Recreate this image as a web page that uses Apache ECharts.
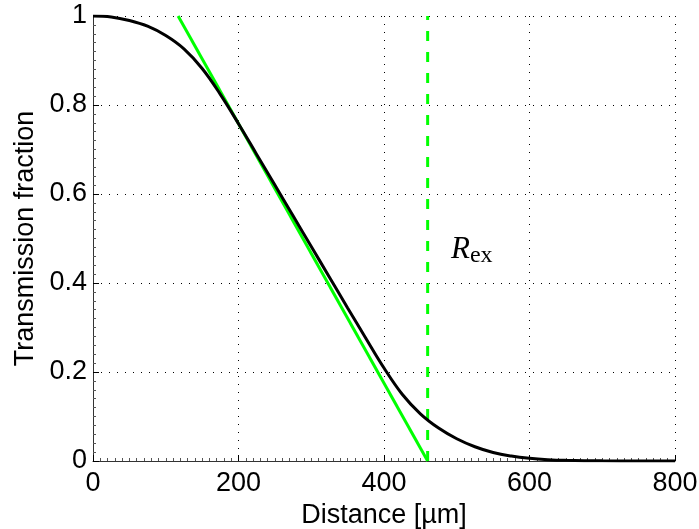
<!DOCTYPE html>
<html>
<head>
<meta charset="utf-8">
<script src="https://cdn.jsdelivr.net/npm/echarts@6/dist/echarts.min.js"></script>
<style>
  html, body { margin: 0; padding: 0; background: #fff; }
  #chart { width: 699px; height: 529px; }
</style>
</head>
<body>
<div id="chart"></div>
<script>
// transmission curve
let distance = [0, 25, 50, 75, 100, 125, 150, 175, 200, 225, 250, 275, 300, 325, 350, 375, 400,
                425, 450, 475, 500, 525, 550, 575, 600, 625, 650, 700, 750, 800];
let transmission = [1.0, 0.998, 0.990, 0.977, 0.956, 0.926, 0.882, 0.824, 0.758, 0.689, 0.620, 0.551,
                    0.482, 0.413, 0.344, 0.276, 0.209, 0.150, 0.106, 0.074, 0.050, 0.032, 0.019, 0.011,
                    0.006, 0.003, 0.0015, 0.0004, 0, 0];
// tangent line and R_ex marker
let tangentX = [117, 460];
let tangentY = [1, 0];
let rex = 460;

let curveData = distance.map((d, i) => [d, transmission[i]]);
let tangentData = tangentX.map((d, i) => [d, tangentY[i]]);

let myChart = echarts.init(document.getElementById('chart'));
let font = 'Liberation Sans';
let option = {
    animation: false,
    grid: { left: 93, right: 24, top: 16, bottom: 68, outerBoundsMode: 'none', containLabel: false },
    xAxis: {
        type: 'value', min: 0, max: 800, interval: 200,
        name: 'Distance [\u00b5m]', nameLocation: 'middle', nameGap: 36,
        nameTextStyle: { fontFamily: font, fontSize: 27, color: '#000' },
        axisLine: { lineStyle: { color: '#333', width: 1 } },
        axisTick: { inside: true, length: 6, lineStyle: { color: '#000' } },
        minorTick: { show: true, splitNumber: 20, length: 3, lineStyle: { color: '#555' } },
        axisLabel: { fontFamily: font, fontSize: 27, color: '#000', margin: 9 },
        splitLine: { show: true, lineStyle: { color: '#000', type: [1, 7], width: 1 } }
    },
    yAxis: {
        type: 'value', min: 0, max: 1, interval: 0.2,
        name: 'Transmission fraction', nameLocation: 'middle', nameGap: 53,
        nameTextStyle: { fontFamily: font, fontSize: 27, color: '#000' },
        axisLine: { show: true, lineStyle: { color: '#333', width: 1 } },
        axisTick: { show: true, inside: true, length: 6, lineStyle: { color: '#000' } },
        minorTick: { show: true, splitNumber: 10, length: 3, lineStyle: { color: '#555' } },
        axisLabel: { fontFamily: font, fontSize: 27, color: '#000', margin: 6,
                     formatter: v => String(Math.round(v * 10) / 10) },
        splitLine: { show: true, lineStyle: { color: '#000', type: [1, 7], width: 1 } }
    },
    graphic: [{
        type: 'text', left: 451, top: 234, z: 10,
        style: {
            text: '{r|R}{s|ex}',
            rich: {
                r: { fontFamily: 'Liberation Serif', fontStyle: 'italic', fontSize: 31, fill: '#000' },
                s: { fontFamily: 'Liberation Serif', fontSize: 24, fill: '#000', padding: [12, 0, 0, 0] }
            }
        }
    }],
    series: [
        {
            type: 'line', data: curveData, smooth: 0.4, showSymbol: false, z: 3,
            lineStyle: { color: '#000', width: 3 }
        },
        {
            type: 'line', data: tangentData, showSymbol: false, z: 2,
            lineStyle: { color: '#00ff00', width: 3 }
        },
        {
            type: 'line', data: [[rex, 0], [rex, 1]], showSymbol: false, z: 2,
            lineStyle: { color: '#00ff00', width: 3, type: [10, 11] }
        }
    ]
};
myChart.setOption(option);
</script>
</body>
</html>
